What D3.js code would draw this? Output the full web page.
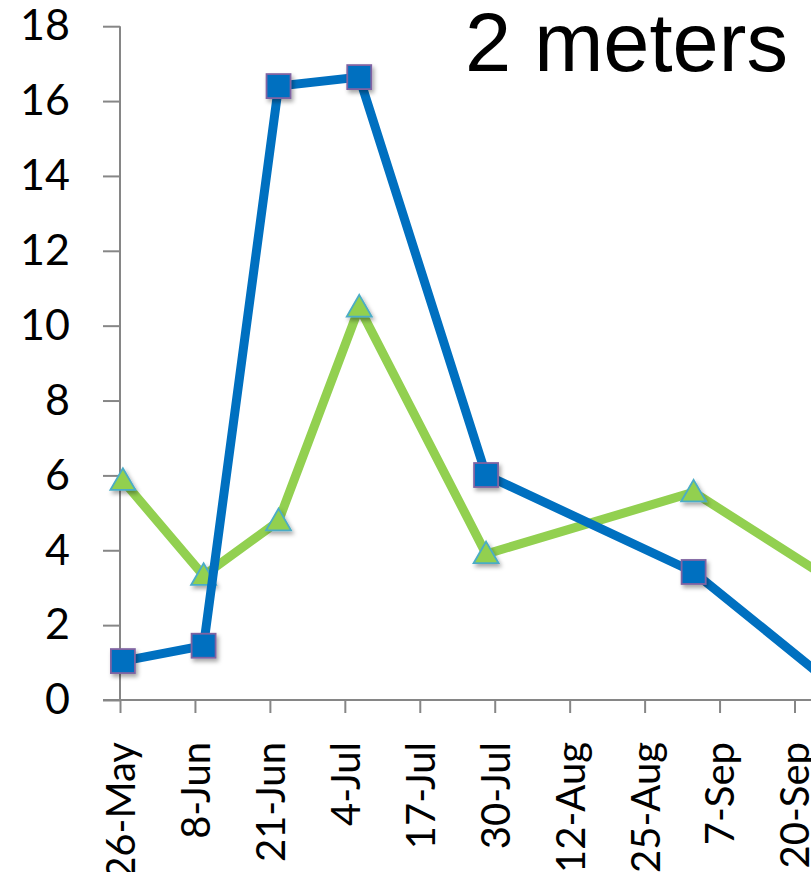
<!DOCTYPE html>
<html>
<head>
<meta charset="utf-8">
<script src="https://cdn.jsdelivr.net/npm/d3@7"></script>
<style>
  html, body { margin: 0; padding: 0; background: #fff; overflow: hidden; }
  svg { display: block; }
</style>
</head>
<body>
<svg id="chart" width="811" height="872"></svg>
<script>
// ---- data ----
const sampleDates = ["2013-05-26T12:00:00Z", "2013-06-09T12:00:00Z", "2013-06-22T12:00:00Z",
                     "2013-07-06T12:00:00Z", "2013-07-28T12:00:00Z", "2013-09-02T12:00:00Z",
                     "2013-09-29T12:00:00Z"];
const blueValues  = [1.04, 1.45, 16.40, 16.64, 6.01, 3.42, 0.05];
const greenValues = [5.86, 3.32, 4.78, 10.49, 3.90, 5.55, 2.90];
const xTickDates  = ["2013-05-26", "2013-06-08", "2013-06-21", "2013-07-04", "2013-07-17",
                     "2013-07-30", "2013-08-12", "2013-08-25", "2013-09-07", "2013-09-20", "2013-10-03"];
const xTickLabels = ["26-May", "8-Jun", "21-Jun", "4-Jul", "17-Jul", "30-Jul", "12-Aug", "25-Aug",
                     "7-Sep", "20-Sep", "3-Oct"];
const yTicks = [0, 2, 4, 6, 8, 10, 12, 14, 16, 18];
const titleText = "2 meters";

// ---- layout ----
const svg = d3.select("#chart");
const x0 = 120, y0 = 700, yTop = 26.2;
const pxPerDay = 5.765;
const startDate = new Date("2013-05-26T00:00:00Z");
const endDate = new Date("2013-10-03T00:00:00Z");
const x = d3.scaleUtc().domain([startDate, endDate])
  .range([x0, x0 + pxPerDay * d3.utcDay.count(startDate, endDate)]);
const y = d3.scaleLinear().domain([0, 18]).range([y0, yTop]);

const defs = svg.append("defs");
const f = defs.append("filter").attr("id", "shadow")
  .attr("x", "-50%").attr("y", "-50%").attr("width", "200%").attr("height", "200%");
f.append("feDropShadow").attr("dx", 2).attr("dy", 3).attr("stdDeviation", 2)
  .attr("flood-color", "#000").attr("flood-opacity", 0.35);

const axisColor = "#868686";
const font = "Lato, 'Open Sans', sans-serif";

// y axis
const yAxis = d3.axisLeft(y).tickValues(yTicks).tickSize(17).tickPadding(33).tickFormat(d3.format("d"));
const gy = svg.append("g").attr("transform", `translate(${x0},0)`).call(yAxis);
gy.select(".domain").attr("stroke", axisColor).attr("stroke-width", 2)
  .attr("d", `M0,${yTop}V${y0}`);
gy.selectAll(".tick line").attr("stroke", axisColor).attr("stroke-width", 2);
gy.selectAll(".tick text").attr("fill", "#000").style("font-family", font).style("font-size", "43px");

// x axis
const tickDates = xTickDates.map(s => new Date(s + "T00:00:00Z"));
const xAxis = d3.axisBottom(x).tickValues(tickDates).tickSize(13)
  .tickFormat((d, i) => xTickLabels[i]);
const gx = svg.append("g").attr("transform", `translate(0,${y0})`).call(xAxis);
gx.select(".domain").attr("stroke", axisColor).attr("stroke-width", 2)
  .attr("d", `M${x0 - 17},0H${x(endDate)}`);
gx.selectAll(".tick line").attr("stroke", axisColor).attr("stroke-width", 2);
gx.selectAll(".tick text")
  .attr("transform", "rotate(-90)")
  .attr("x", -42).attr("y", 0).attr("dy", "0.36em")
  .style("text-anchor", "end")
  .attr("fill", "#000").style("font-family", font).style("font-size", "40px");

// series
const dates = sampleDates.map(s => new Date(s));
const greenData = dates.map((d, i) => ({ d, v: greenValues[i] }));
const blueData = dates.map((d, i) => ({ d, v: blueValues[i] }));
const line = d3.line().x(p => x(p.d)).y(p => y(p.v));

// green series
svg.append("path").datum(greenData).attr("d", line)
  .attr("fill", "none").attr("stroke", "#92D050").attr("stroke-width", 9)
  .attr("stroke-linejoin", "miter");
const tri = d3.symbol().type(d3.symbolTriangle).size(270);
svg.append("g").selectAll("path").data(greenData).join("path")
  .attr("d", tri)
  .attr("transform", p => `translate(${x(p.d)},${y(p.v) + 2})`)
  .attr("fill", "#92D050").attr("stroke", "#4BACC6").attr("stroke-width", 1.8)
  .attr("filter", "url(#shadow)");

// blue series
svg.append("path").datum(blueData).attr("d", line)
  .attr("fill", "none").attr("stroke", "#0070C0").attr("stroke-width", 9)
  .attr("stroke-linejoin", "miter");
const sq = 24;
svg.append("g").selectAll("rect").data(blueData).join("rect")
  .attr("x", p => x(p.d) - sq / 2).attr("y", p => y(p.v) - sq / 2)
  .attr("width", sq).attr("height", sq)
  .attr("fill", "#0070C0").attr("stroke", "#8064A2").attr("stroke-width", 1.8)
  .attr("filter", "url(#shadow)");

// title
svg.append("text").attr("x", 465).attr("y", 71)
  .style("font-family", "'Liberation Sans', Arial, sans-serif").style("font-size", "83px")
  .attr("fill", "#000").text(titleText);
</script>
</body>
</html>
